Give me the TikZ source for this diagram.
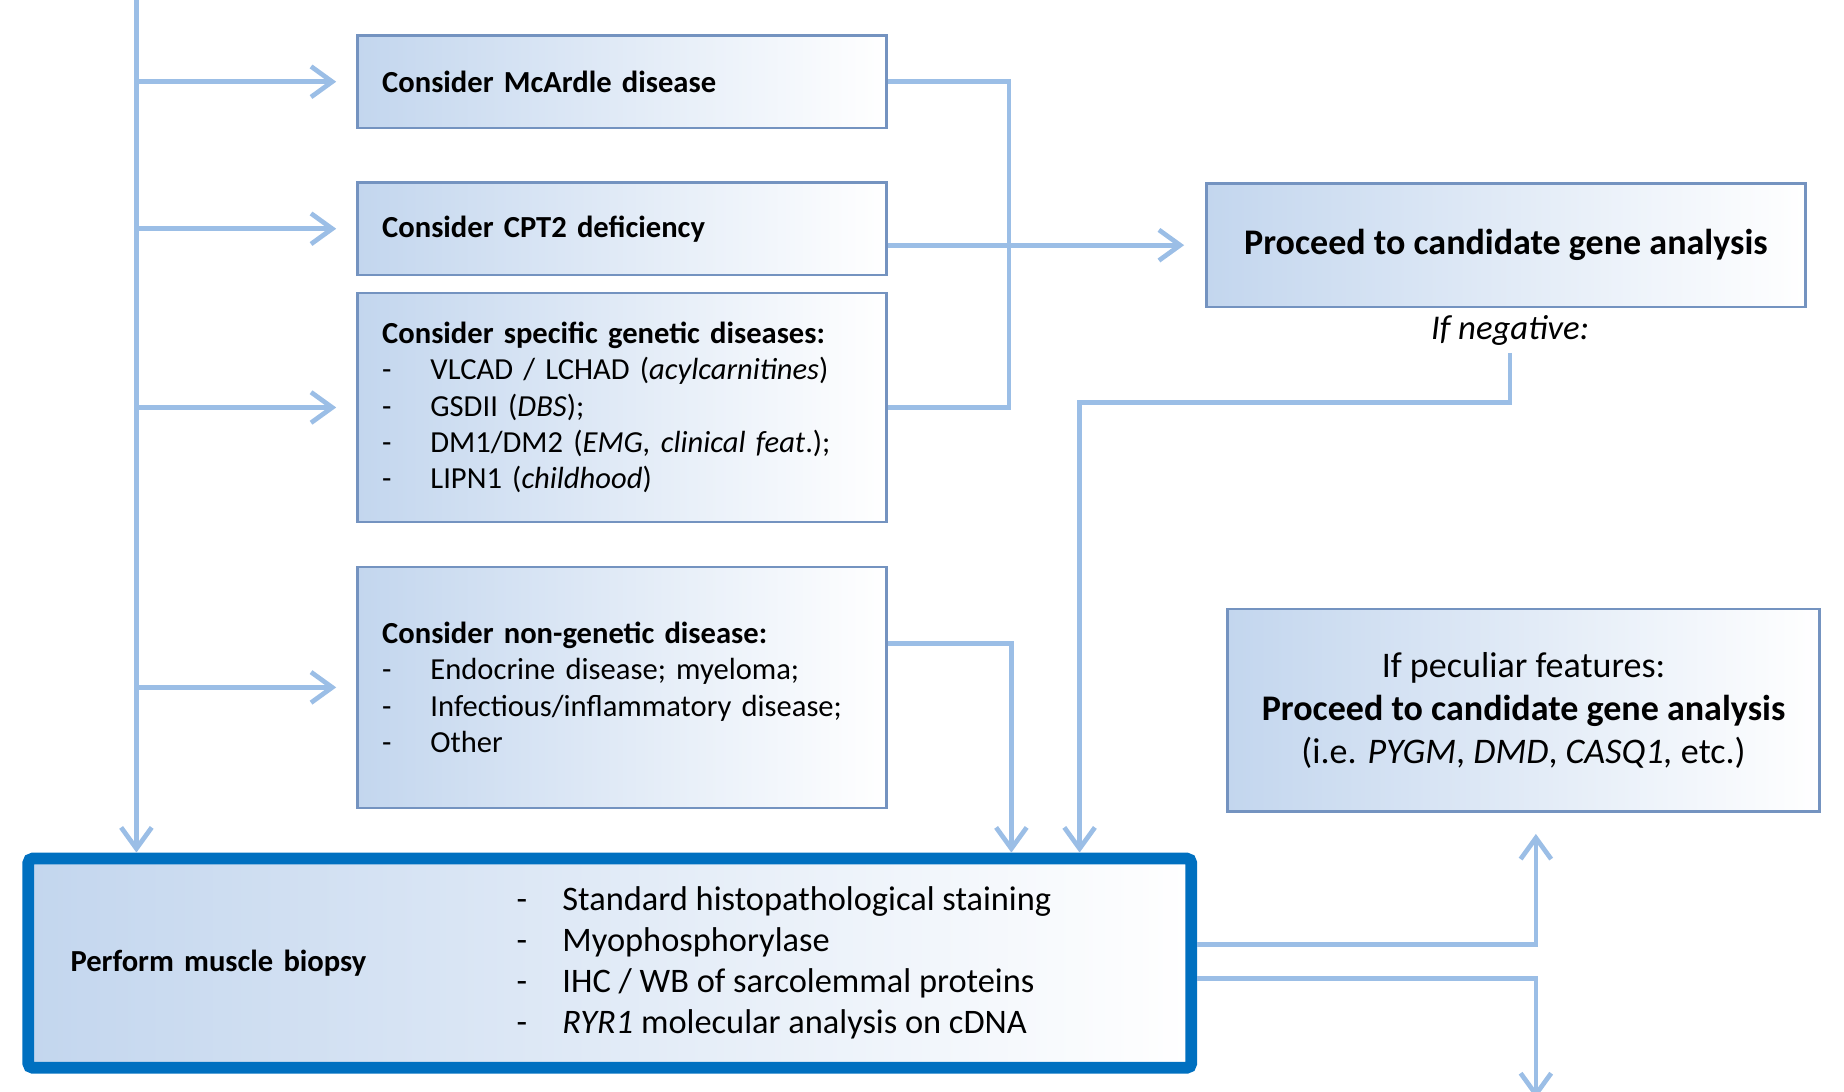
\documentclass[tikz,border=0pt]{standalone}
\usepackage{fontspec}
\setmainfont{Carlito}
\usepackage{tikz}
\usetikzlibrary{arrows.meta}
\definecolor{flowline}{HTML}{9BBEE6}
\definecolor{boxedge}{HTML}{7493C0}
\definecolor{boxfill}{HTML}{C3D6EE}
\definecolor{biopsyedge}{HTML}{0070C0}
\newcommand{\dashitem}[1][10.25mm]{\makebox[#1][l]{-}}

\begin{document}
\begin{tikzpicture}[x=0.25mm,y=-0.25mm,
  box/.style={draw=boxedge,line width=0.55mm,left color=boxfill,right color=white,minimum width=112.5mm,text width=102mm,inner xsep=5.25mm,align=left,font=\fontsize{18.5}{22}\selectfont},
  bigbox/.style={draw=boxedge,line width=0.55mm,left color=boxfill,right color=white,align=center,font=\fontsize{21.8}{25.9}\selectfont},
  arrow/.style={-{Straight Barb[length=4.5mm,width=6.5mm]},line width=1mm,draw=flowline},
  link/.style={line width=1mm,draw=flowline}
]
\clip (0,0) rectangle (1568,928);
\node[box,minimum height=19.75mm] (mcardle) at (529,69.5) {\bfseries Consider McArdle disease};
\node[box,minimum height=19.75mm] (cpt) at (529,194.5) {\bfseries Consider CPT2 deficiency};
\node[box,minimum height=48.75mm] (specific) at (529,346.5) {\textbf{Consider specific genetic diseases:}\\
  \dashitem VLCAD / LCHAD (\textit{acylcarnitines})\\
  \dashitem GSDII (\textit{DBS});\\
  \dashitem DM1/DM2 (\textit{EMG, clinical feat}.);\\
  \dashitem LIPN1 (\textit{childhood})};
\node[box,minimum height=51.25mm] (nongen) at (529,584.5) {\textbf{Consider non-genetic disease:}\\
  \dashitem Endocrine disease; myeloma;\\
  \dashitem Infectious/inflammatory disease;\\
  \dashitem Other};
\node[bigbox,minimum width=127.25mm,minimum height=26.25mm] (proceed) at (1280.5,208.5) {\bfseries Proceed to candidate gene analysis};
\node[font=\fontsize{21}{25}\selectfont\itshape,inner sep=1.5mm] (negative) at (1284,281) {If negative:};
\node[bigbox,minimum width=125.75mm,minimum height=43mm] (peculiar) at (1295.5,604) {If peculiar features:\\
  \textbf{Proceed to candidate gene analysis}\\
  (i.e. \textit{PYGM}, \textit{DMD}, \textit{CASQ1,} etc.)};
\node[draw=biopsyedge,line width=2.5mm,rounded corners=1mm,left color=boxfill,right color=white,minimum width=247.25mm,minimum height=44.5mm,text width=229.25mm,inner xsep=9mm,align=left,font=\fontsize{18.5}{22}\selectfont\bfseries] (biopsy) at (518.5,819) {Perform muscle biopsy};
\node[anchor=west,inner sep=0pt,align=left,font=\fontsize{20.8}{24.8}\selectfont] (tests) at (439,819) {\dashitem[9.75mm]Standard histopathological staining\\
  \dashitem[9.75mm]Myophosphorylase\\
  \dashitem[9.75mm]IHC / WB of sarcolemmal proteins\\
  \dashitem[9.75mm]\textit{RYR1} molecular analysis on cDNA};

\coordinate (top) at (116,0);
\coordinate (join) at (858,207);
\coordinate (negturn) at (918,342);
\coordinate (nongendrop) at (860,547);
\coordinate (upturn) at (1306,803);
\coordinate (downturn) at (1306,832);
\coordinate (exit) at (1306,934);

\draw[arrow] (top) -- (top |- biopsy.north);
\foreach \n in {mcardle,cpt,specific,nongen}
  \draw[arrow,shorten >=4.25mm] (top |- \n.west) -- (\n.west);
\draw[link] (mcardle.east) -| (join) |- (specific.east);
\draw[arrow,shorten >=4.5mm] (cpt.east |- proceed.west) -- (proceed.west);
\draw[arrow] (negative.south) |- (negturn) -- (negturn |- biopsy.north);
\draw[arrow] (nongen.east |- nongendrop) -- (nongendrop) -- (nongendrop |- biopsy.north);
\draw[arrow,shorten >=4.5mm] (biopsy.east |- upturn) -- (upturn) -- (upturn |- peculiar.south);
\draw[arrow] (biopsy.east |- downturn) -- (downturn) -- (exit);
\end{tikzpicture}
\end{document}
